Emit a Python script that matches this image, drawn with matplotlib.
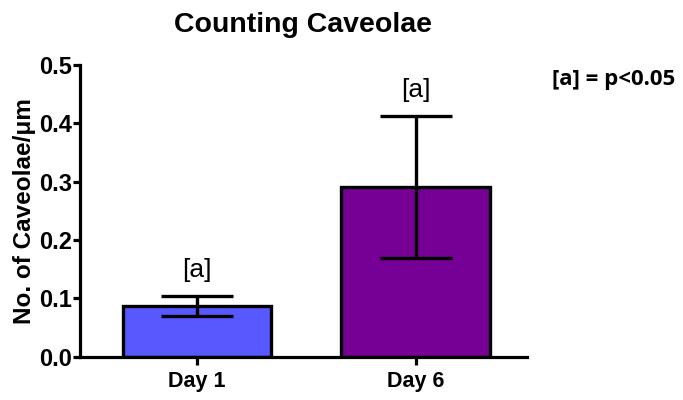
import matplotlib.pyplot as plt

groups = ["Day 1", "Day 6"]
means = [0.087, 0.291]
errors = [0.0165, 0.121]
colors = ["#5858ff", "#760096"]
sig = ["[a]", "[a]"]

plt.rcParams["font.family"] = ["Liberation Sans", "DejaVu Sans"]

fig = plt.figure(figsize=(6.83, 4.0), dpi=100)
ax = fig.add_axes([0.1171, 0.108, 0.6545, 0.7295])

x = list(range(len(groups)))
ax.bar(x, means, width=0.68, color=colors, edgecolor="black", linewidth=2.4, zorder=2)
ax.errorbar(x, means, yerr=errors, fmt="none", ecolor="black", elinewidth=2.4,
            capsize=26, capthick=2.4, zorder=3)

for xi, m, e, s in zip(x, means, errors, sig):
    ax.text(xi, m + e + 0.024, s, ha="center", va="bottom", fontsize=19)

ax.set_xlim(-0.535, 1.51)
ax.set_ylim(0, 0.5)
ax.set_yticks([0.0, 0.1, 0.2, 0.3, 0.4, 0.5])
ax.set_yticklabels(["0.0", "0.1", "0.2", "0.3", "0.4", "0.5"])
ax.set_xticks(x)
ax.set_xticklabels(groups)

for lbl in ax.get_yticklabels():
    lbl.set_fontweight("bold")
    lbl.set_fontsize(17)
for lbl in ax.get_xticklabels():
    lbl.set_fontweight("bold")
    lbl.set_fontsize(15.5)

ax.spines["top"].set_visible(False)
ax.spines["right"].set_visible(False)
ax.spines["left"].set_linewidth(2.3)
ax.spines["bottom"].set_linewidth(2.3)
ax.tick_params(axis="y", length=5, width=2.3, pad=1)
ax.tick_params(axis="x", length=6, width=2.3, pad=4)

ax.set_ylabel("No. of Caveolae/\u03bcm", fontsize=17.5, fontweight="bold", labelpad=2)
ax.set_title("Counting Caveolae", fontsize=20.5, fontweight="bold", pad=24)

fig.text(0.808, 0.80, "[a] = p<0.05", fontsize=16, fontweight="bold",
         family=["Open Sans", "DejaVu Sans"], ha="left", va="center")

fig.savefig("out.png", dpi=100)
